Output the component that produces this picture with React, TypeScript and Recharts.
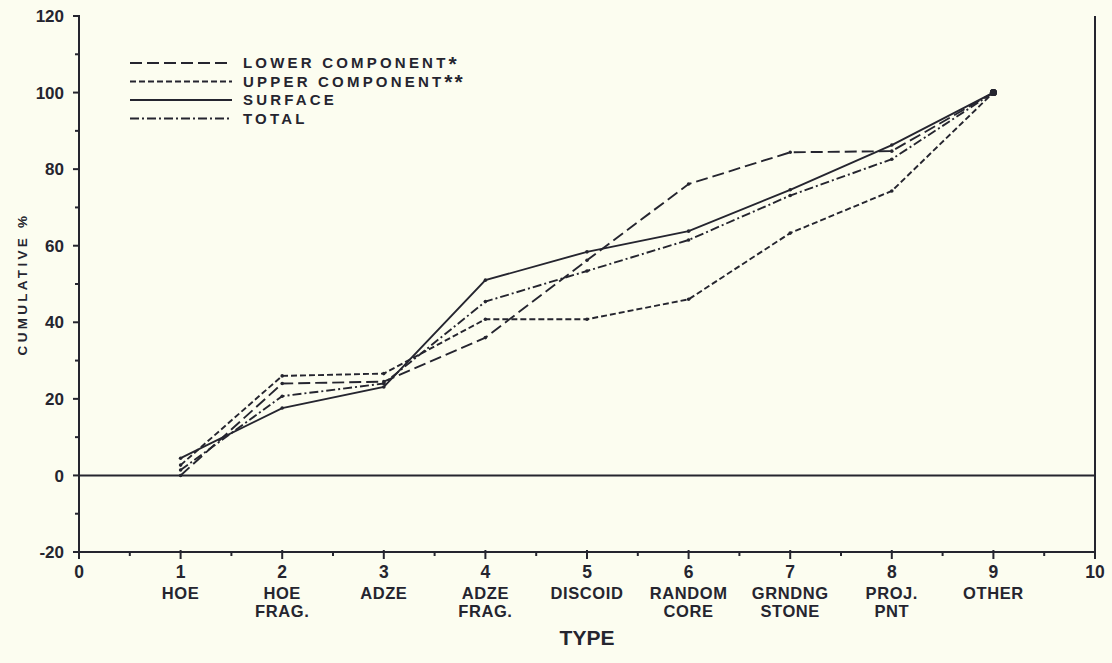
import React from 'react';
import { LineChart, Line, XAxis, YAxis, ReferenceLine } from 'recharts';

const INK = '#25252f';
const PAPER = '#fcfdf0';
const FONT = '"Liberation Sans", Arial, Helvetica, sans-serif';

// type positions 1..9 and their labels
const typeIndex = [1, 2, 3, 4, 5, 6, 7, 8, 9];
const typeLabels = [
  ['HOE'],
  ['HOE', 'FRAG.'],
  ['ADZE'],
  ['ADZE', 'FRAG.'],
  ['DISCOID'],
  ['RANDOM', 'CORE'],
  ['GRNDNG', 'STONE'],
  ['PROJ.', 'PNT'],
  ['OTHER'],
];

// cumulative % per component
const lowerComponent = [0, 24, 24.5, 36, 56.2, 76.1, 84.4, 84.7, 100];
const upperComponent = [2.7, 26, 26.6, 40.8, 40.8, 46, 63.3, 74.3, 100];
const surface = [4.5, 17.6, 23.1, 51, 58.4, 63.8, 74.6, 86.3, 100];
const total = [1.4, 20.7, 24, 45.4, 53.4, 61.5, 73.1, 82.6, 100];

const xTicks = [0, 0.5, 1, 1.5, 2, 2.5, 3, 3.5, 4, 4.5, 5, 5.5, 6, 6.5, 7, 7.5, 8, 8.5, 9, 9.5, 10];
const yTicks = [-20, -10, 0, 10, 20, 30, 40, 50, 60, 70, 80, 90, 100, 110, 120];

const series = [
  { key: 'lower', name: 'LOWER COMPONENT', stars: '*', dash: '12 5' },
  { key: 'upper', name: 'UPPER COMPONENT', stars: '**', dash: '6 3' },
  { key: 'surface', name: 'SURFACE', stars: '', dash: undefined },
  { key: 'total', name: 'TOTAL', stars: '', dash: '9 3 2 3' },
];

const data = typeIndex.map((x, i) => ({
  x,
  lower: lowerComponent[i],
  upper: upperComponent[i],
  surface: surface[i],
  total: total[i],
}));

const BottomTick = (props: any) => {
  const { x, y, payload } = props;
  const v = payload.value;
  const major = Number.isInteger(v);
  const idx = Math.round(v) - 1;
  const lines = major && idx >= 0 && idx < typeLabels.length ? typeLabels[idx] : [];
  return (
    <g>
      <line x1={x} x2={x} y1={y - (major ? 2 : 0)} y2={y + (major ? 7 : 4)} stroke={INK} strokeWidth={2} />
      {major && (
        <text x={x} y={y + 26} textAnchor="middle" fill={INK} fontFamily={FONT} fontWeight="bold" fontSize={17.5}>
          {v}
        </text>
      )}
      {lines.map((l, i) => (
        <text key={i} x={x} y={y + 47 + i * 18} textAnchor="middle" fill={INK} fontFamily={FONT}
          fontWeight="bold" fontSize={16.5} letterSpacing={0.6}>
          {l}
        </text>
      ))}
    </g>
  );
};

const TopTick = (props: any) => {
  const { x, y, payload } = props;
  const major = Number.isInteger(payload.value);
  return <line x1={x} x2={x} y1={y + 1} y2={y - (major ? 6 : 3)} stroke={INK} strokeWidth={2} />;
};

const LeftTick = (props: any) => {
  const { x, y, payload } = props;
  const v = payload.value;
  const major = v % 20 === 0;
  return (
    <g>
      <line x1={x + 1} x2={x - (major ? 6 : 4)} y1={y} y2={y} stroke={INK} strokeWidth={2} />
      {major && (
        <text x={x - 15} y={y} dy="0.36em" textAnchor="end" fill={INK} fontFamily={FONT} fontWeight="bold" fontSize={17}>
          {v}
        </text>
      )}
    </g>
  );
};

const RightTick = (props: any) => {
  const { x, y } = props;
  return <line x1={x - 1} x2={x + 6} y1={y} y2={y} stroke={INK} strokeWidth={2} />;
};

const YLabel = (props: any) => {
  const { viewBox } = props;
  const cy = viewBox.y + viewBox.height / 2;
  return (
    <text transform={`translate(22, ${cy}) rotate(-90)`} textAnchor="middle" dy="0.36em" fill={INK}
      fontFamily={FONT} fontWeight="bold" fontSize={13.5} letterSpacing={3.3}>
      CUMULATIVE %
    </text>
  );
};

const renderDot = (props: any) => {
  const { cx, cy, index } = props;
  const last = index === typeIndex.length - 1;
  return <circle key={`d-${index}`} cx={cx} cy={cy} r={last ? 3.5 : 1.8} fill={INK} stroke="none" />;
};

function ChartLegend() {
  return (
    <svg width={440} height={100} style={{ position: 'absolute', left: 128, top: 40 }}>
      {series.map((s, i) => {
        const cy = 23 + i * 18.5;
        return (
          <g key={s.key}>
            <line x1={2} x2={104} y1={cy} y2={cy} stroke={INK} strokeWidth={1.9} strokeDasharray={s.dash} />
            <text x={115} y={cy} dy="0.36em" fill={INK} fontFamily={FONT} fontWeight="bold" fontSize={15} letterSpacing={3.2}>
              {s.name}
              {s.stars && <tspan fontSize={21} dy="0.1em" letterSpacing={2}>{s.stars}</tspan>}
            </text>
          </g>
        );
      })}
    </svg>
  );
}

export default function App() {
  return (
    <div style={{ position: 'absolute', left: 0, top: 0, width: 1112, height: 663, background: PAPER }}>
      <LineChart width={1112} height={663} data={data} margin={{ top: 16, right: 0, bottom: 0, left: 0 }}>
        <XAxis dataKey="x" type="number" domain={[0, 10]} ticks={xTicks} interval={0} height={111}
          tickSize={0} tickMargin={0} tickLine={false} tick={<BottomTick />}
          axisLine={{ stroke: INK, strokeWidth: 2 }}
          label={{ value: 'TYPE', position: 'insideBottom', offset: 18, fill: INK, fontFamily: FONT, fontWeight: 'bold', fontSize: 21 }} />
        <XAxis xAxisId="top" orientation="top" dataKey="x" type="number" domain={[0, 10]} ticks={xTicks} interval={0}
          height={0} tickSize={0} tickMargin={0} tickLine={false} tick={<TopTick />}
          axisLine={{ stroke: INK, strokeWidth: 2 }} />
        <YAxis type="number" domain={[-20, 120]} ticks={yTicks} interval={0} width={79}
          tickSize={0} tickMargin={0} tickLine={false} tick={<LeftTick />}
          axisLine={{ stroke: INK, strokeWidth: 2 }} label={<YLabel />} />
        <YAxis yAxisId="right" orientation="right" type="number" domain={[-20, 120]} ticks={yTicks} interval={0} width={17}
          tickSize={0} tickMargin={0} tickLine={false} tick={<RightTick />}
          axisLine={{ stroke: INK, strokeWidth: 2 }} />
        <ReferenceLine y={0} stroke={INK} strokeWidth={2} />
        {series.map((s) => (
          <Line key={s.key} dataKey={s.key} name={s.name} type="linear" stroke={INK} strokeWidth={1.9}
            strokeDasharray={s.dash} dot={renderDot} activeDot={false} isAnimationActive={false} />
        ))}
      </LineChart>
      <ChartLegend />
    </div>
  );
}
